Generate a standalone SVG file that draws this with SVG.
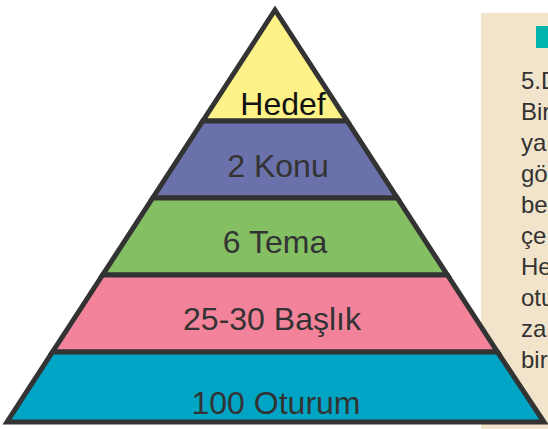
<svg xmlns="http://www.w3.org/2000/svg" width="548" height="429" viewBox="0 0 548 429">
<style>
.lvl{stroke:#333;stroke-width:5;stroke-linejoin:miter}
.lbl{font-family:"Liberation Sans",Arial,sans-serif;font-size:32px;fill:#333;text-anchor:middle}
.side{font-family:"Liberation Sans",Arial,sans-serif;font-size:24px;fill:#333}
</style>
<rect width="548" height="429" fill="#fff"/>
<g id="sidebox">
<rect x="481" y="13" width="67" height="416" fill="#f2e4cb"/>
<rect x="536" y="26" width="12" height="22" fill="#00b3ad"/>
<text class="side" x="521" y="89">5.D</text>
<text class="side" x="521" y="120">Bir</text>
<text class="side" x="521" y="151">ya</text>
<text class="side" x="521" y="182">gö</text>
<text class="side" x="521" y="213">be</text>
<text class="side" x="521" y="244">çe</text>
<text class="side" x="521" y="275">He</text>
<text class="side" x="521" y="306">otu</text>
<text class="side" x="521" y="337">za</text>
<text class="side" x="521" y="368">bir</text>
</g>
<g id="pyramid">
<g id="level-hedef">
<polygon class="lvl" points="275,10 347.2,121 202.8,121" fill="#fdf287"/>
<text class="lbl" x="283" y="115" style="fill:#111">Hedef</text>
</g>
<g id="level-konu">
<polygon class="lvl" points="202.8,121 347.2,121 397.3,198 152.7,198" fill="#6b71aa"/>
<text class="lbl" x="278" y="177">2 Konu</text>
</g>
<g id="level-tema">
<polygon class="lvl" points="152.7,198 397.3,198 447.4,275 102.6,275" fill="#84bf63"/>
<text class="lbl" x="275" y="253">6 Tema</text>
</g>
<g id="level-baslik">
<polygon class="lvl" points="102.6,275 447.4,275 497.5,352 52.5,352" fill="#f2839a"/>
<text class="lbl" x="272" y="330">25-30 Başlık</text>
</g>
<g id="level-oturum">
<polygon class="lvl" points="52.5,352 497.5,352 544,422 7,422" fill="#00a5c6"/>
<text class="lbl" x="276" y="414">100 Oturum</text>
</g>
</g>
</svg>
